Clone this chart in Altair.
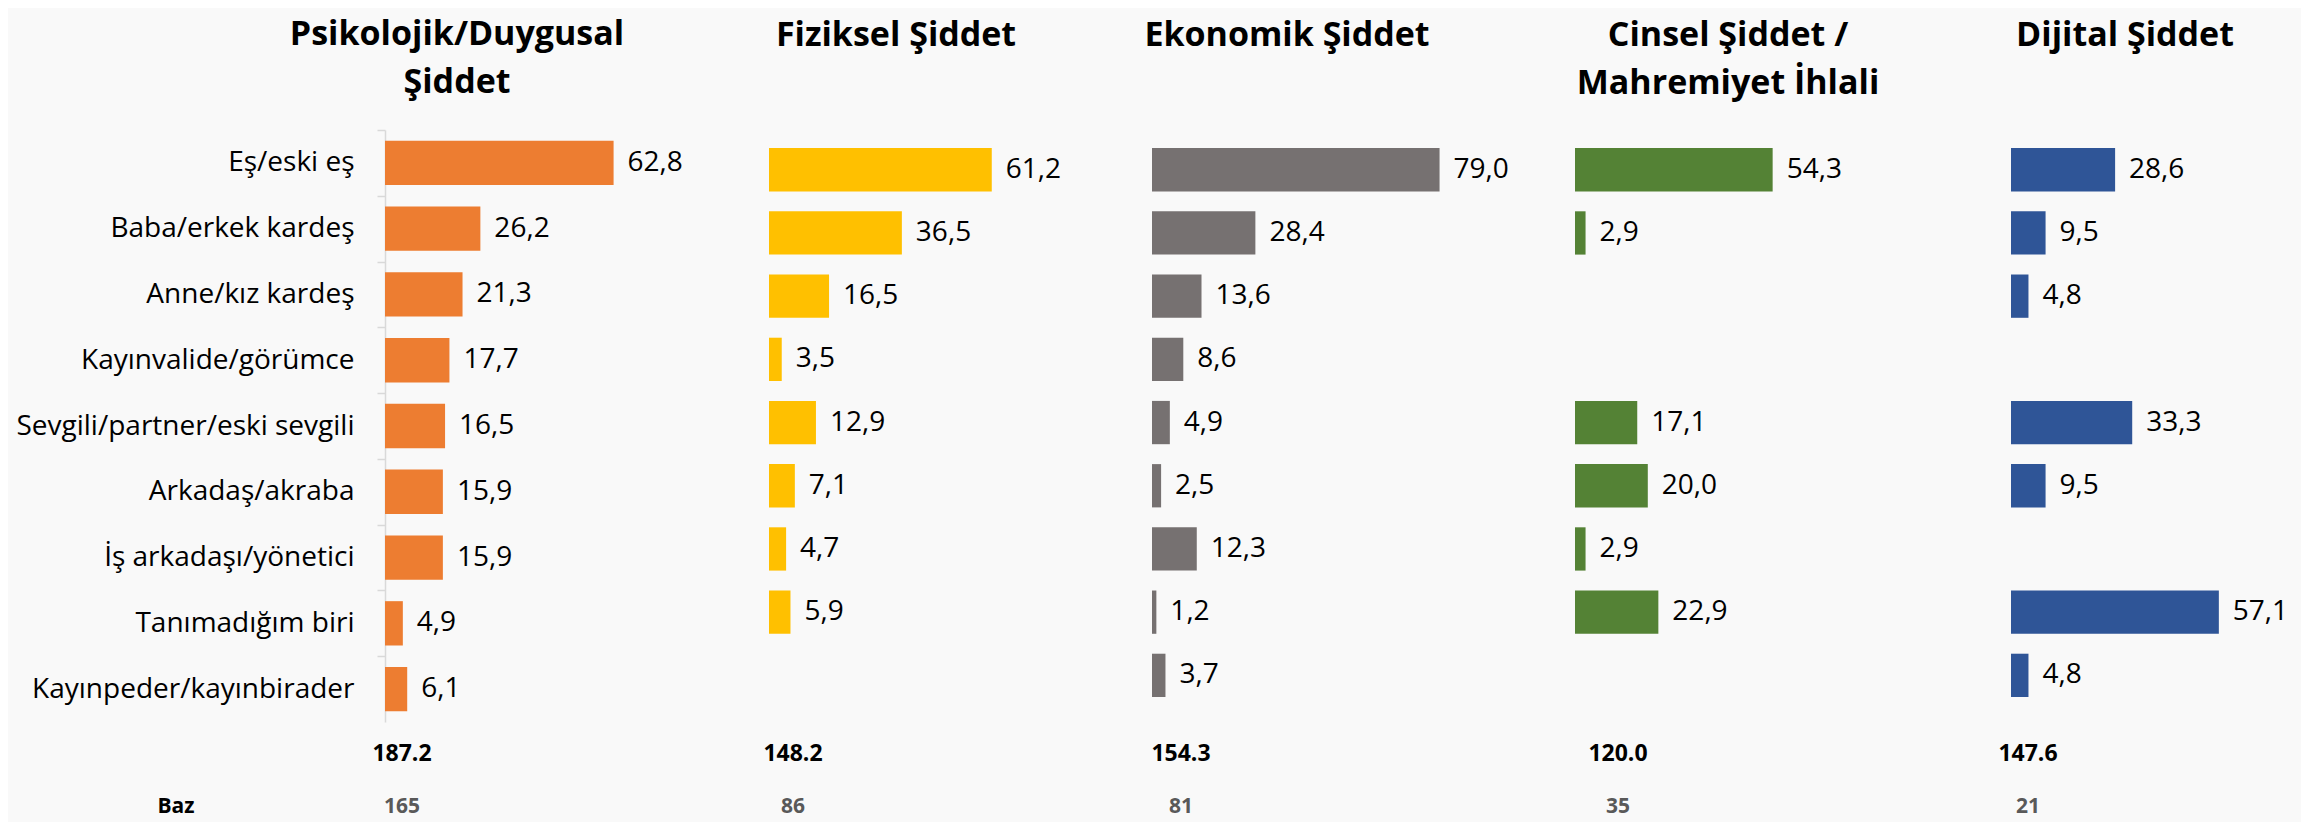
import altair as alt
import pandas as pd

# ---------------- data ----------------
CATEGORIES = [
    "Eş/eski eş",
    "Baba/erkek kardeş",
    "Anne/kız kardeş",
    "Kayınvalide/görümce",
    "Sevgili/partner/eski sevgili",
    "Arkadaş/akraba",
    "İş arkadaşı/yönetici",
    "Tanımadığım biri",
    "Kayınpeder/kayınbirader",
]
TITLES = [
    ["Psikolojik/Duygusal", "Şiddet"],
    ["Fiziksel Şiddet", ""],
    ["Ekonomik Şiddet", ""],
    ["Cinsel Şiddet /", "Mahremiyet İhlali"],
    ["Dijital Şiddet", ""],
]
PSIKOLOJIK = [62.8, 26.2, 21.3, 17.7, 16.5, 15.9, 15.9, 4.9, 6.1]
FIZIKSEL = [61.2, 36.5, 16.5, 3.5, 12.9, 7.1, 4.7, 5.9, None]
EKONOMIK = [79.0, 28.4, 13.6, 8.6, 4.9, 2.5, 12.3, 1.2, 3.7]
CINSEL = [54.3, 2.9, None, None, 17.1, 20.0, 2.9, 22.9, None]
DIJITAL = [28.6, 9.5, 4.8, None, 33.3, 9.5, None, 57.1, 4.8]
SERIES = [PSIKOLOJIK, FIZIKSEL, EKONOMIK, CINSEL, DIJITAL]
TOTALS = [187.2, 148.2, 154.3, 120.0, 147.6]
BASES = [165, 86, 81, 35, 21]
BASE_LABEL = "Baz"
FOOTER_ROWS = ["Toplam", "Baz"]
COLORS = ["#ED7D31", "#FFC000", "#767171", "#548235", "#2F5597"]

# ---------------- layout / style ----------------
FONT = "Open Sans"
PX_PER_UNIT = 3.64
PLOT_H = 592
WIDTHS = [378, 375, 423, 423, 290]
TITLE_DX = [72, 127, 135, 153, 114]
TITLE_DY = [0, 0, 0, 0, 0]
FOOT_DX = [17, 24, 29, 43, 17]
Y_PAD = [dict(paddingInner=0.326, paddingOuter=0.163, align=0.5)] + [
    dict(paddingInner=0.315, paddingOuter=0.341, align=0.42)
] * 4
FOOT_RANGE = [624, 677]

n = len(CATEGORIES)


def panel(i):
    df = pd.DataFrame({"category": CATEGORIES, "value": SERIES[i]}).dropna()
    xs = alt.Scale(domain=[0, WIDTHS[i] / PX_PER_UNIT], nice=False, zero=True)
    x = alt.X("value:Q", scale=xs, axis=None)
    pad = Y_PAD[i]
    ys = alt.Scale(domain=CATEGORIES, **pad)
    if i == 0:
        pi, po = pad["paddingInner"], pad["paddingOuter"]
        step = PLOT_H / (n - pi + 2 * po)
        tick_off = -pi * step / 2
        yaxis = alt.Axis(
            title=None,
            domainColor="#d9d9d9",
            domainWidth=1.5,
            tickColor="#d9d9d9",
            tickWidth=1.5,
            tickSize=8,
            bandPosition=0,
            tickOffset=tick_off,
            labelOffset=-tick_off,
            labelFont=FONT,
            labelFontSize=28,
            labelColor="black",
            labelPadding=23,
            labelLimit=700,
        )
    else:
        yaxis = None
    y = alt.Y("category:N", sort=CATEGORIES, scale=ys, axis=yaxis)
    bars = alt.Chart(df).mark_bar(color=COLORS[i]).encode(x=x, y=y)
    values = (
        alt.Chart(df)
        .transform_calculate(label="replace(format(datum.value, '.1f'), '.', ',')")
        .mark_text(align="left", baseline="middle", dx=14, font=FONT, fontSize=28, color="black")
        .encode(x=x, y=y, text="label:N")
    )
    core = alt.layer(bars, values)

    fy = alt.Scale(type="point", domain=FOOTER_ROWS, range=FOOT_RANGE, padding=0)
    tot_df = pd.DataFrame({"row": [FOOTER_ROWS[0]], "value": [TOTALS[i]]})
    base_df = pd.DataFrame({"row": [FOOTER_ROWS[1]], "value": [BASES[i]]})
    total = alt.Chart(tot_df).mark_text(
        font=FONT, fontSize=23, fontWeight="bold", color="black",
        align="center", baseline="middle", dx=FOOT_DX[i],
    ).encode(
        x=alt.datum(0),
        y=alt.Y("row:N", scale=fy, axis=None),
        text=alt.Text("value:Q", format=".1f"),
    )
    base = alt.Chart(base_df).mark_text(
        font=FONT, fontSize=21, fontWeight="bold", color="#595959",
        align="center", baseline="middle", dx=FOOT_DX[i],
    ).encode(
        x=alt.datum(0),
        y=alt.Y("row:N", scale=fy, axis=None),
        text=alt.Text("value:Q", format="d"),
    )
    foot_layers = [total, base]
    if i == 0:
        lab_df = pd.DataFrame({"row": [FOOTER_ROWS[1]], "label": [BASE_LABEL]})
        lab = alt.Chart(lab_df).mark_text(
            font=FONT, fontSize=21, fontWeight="bold", color="black",
            align="center", baseline="middle", dx=-209,
        ).encode(
            x=alt.datum(0),
            y=alt.Y("row:N", scale=fy, axis=None),
            text="label:N",
        )
        foot_layers.append(lab)
    footer = alt.layer(*foot_layers)

    return (
        alt.layer(core, footer)
        .resolve_scale(y="independent")
        .properties(
            width=WIDTHS[i],
            height=PLOT_H,
            title=alt.TitleParams(
                text=TITLES[i],
                anchor="start",
                frame="group",
                align="center",
                dx=TITLE_DX[i],
                dy=TITLE_DY[i],
                font=FONT,
                fontSize=34,
                fontWeight="bold",
                color="black",
                lineHeight=48,
                offset=29,
            ),
        )
    )


chart = (
    alt.hconcat(*[panel(i) for i in range(5)], spacing=0)
    .properties(background="#f9f9f9", padding={"left": 7, "top": 10, "right": 0, "bottom": 5})
    .configure_view(stroke=None)
)

chart.save("out.html", embed_options={"renderer": "svg", "actions": False})
